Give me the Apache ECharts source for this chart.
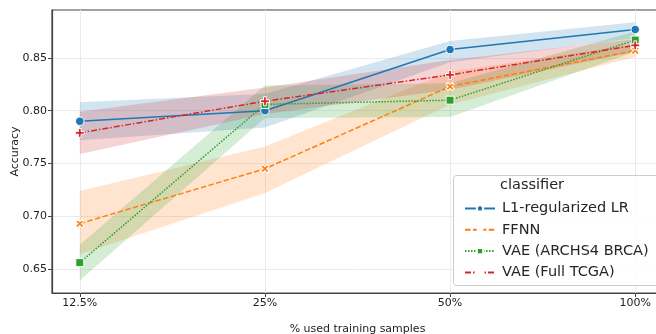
<!DOCTYPE html>
<html><head><meta charset="utf-8">
<script src="https://cdn.jsdelivr.net/npm/echarts@6/dist/echarts.min.js"></script>
<style>html,body{margin:0;padding:0;background:#fff}#c{width:656px;height:334px}</style>
</head><body><div id="c"></div>
<script>
const categories = ['12.5%', '25%', '50%', '100%'];
const yTicks = [0.65, 0.70, 0.75, 0.80, 0.85];
const seriesNames = ['L1-regularized LR', 'FFNN', 'VAE (ARCHS4 BRCA)', 'VAE (Full TCGA)'];
const lrMean = [0.790, 0.800, 0.858, 0.877];
const lrLow = [0.772, 0.784, 0.846, 0.869];
const lrHigh = [0.808, 0.816, 0.866, 0.884];
const ffnnMean = [0.693, 0.745, 0.823, 0.857];
const ffnnLow = [0.664, 0.722, 0.806, 0.851];
const ffnnHigh = [0.724, 0.766, 0.837, 0.863];
const vaeArchsMean = [0.656, 0.806, 0.810, 0.867];
const vaeArchsLow = [0.639, 0.793, 0.794, 0.856];
const vaeArchsHigh = [0.673, 0.824, 0.826, 0.875];
const vaeTcgaMean = [0.779, 0.809, 0.834, 0.862];
const vaeTcgaLow = [0.759, 0.797, 0.820, 0.856];
const vaeTcgaHigh = [0.799, 0.822, 0.848, 0.868];

const colors = ['#1f77b4', '#ff7f0e', '#2ca02c', '#d62728'];
const plusPath = 'path://M-1.2,-4H1.2V-1.2H4V1.2H1.2V4H-1.2V1.2H-4V-1.2H-1.2Z';
const styles = [
  {symbol: 'circle', size: 8.5, rotate: 0, type: 'solid'},
  {symbol: plusPath, size: 9, rotate: 45, type: [5.5, 2.4]},
  {symbol: 'rect', size: 8, rotate: 0, type: [1.5, 1.5]},
  {symbol: plusPath, size: 9, rotate: 0, type: [6, 2, 1.5, 2]}
];
const means = [lrMean, ffnnMean, vaeArchsMean, vaeTcgaMean];
const lows = [lrLow, ffnnLow, vaeArchsLow, vaeTcgaLow];
const highs = [lrHigh, ffnnHigh, vaeArchsHigh, vaeTcgaHigh];

const series = [];
for (let i = 0; i < 4; i++) {
  const lo = lows[i], hi = highs[i];
  series.push({
    type: 'custom', silent: true, z: 1,
    data: lo.map((v, j) => [j, v, hi[j]]),
    encode: {x: 0, y: [1, 2]},
    renderItem: function (params, api) {
      if (params.dataIndex !== 0) return null;
      const pts = [];
      for (let j = 0; j < lo.length; j++) pts.push(api.coord([j, hi[j]]));
      for (let j = lo.length - 1; j >= 0; j--) pts.push(api.coord([j, lo[j]]));
      return {type: 'polygon', shape: {points: pts},
        style: {fill: colors[i], opacity: 0.2}};
    }
  });
}
for (let i = 0; i < 4; i++) {
  series.push({
    name: seriesNames[i], type: 'line', z: 3,
    symbol: styles[i].symbol, symbolSize: styles[i].size, symbolRotate: styles[i].rotate,
    showAllSymbol: true,
    itemStyle: {color: colors[i], borderColor: '#fff', borderWidth: 1},
    lineStyle: {color: colors[i], width: 1.5, type: styles[i].type},
    data: means[i].map((v, j) => [j, v])
  });
}

const chart = echarts.init(document.getElementById('c'), null, {renderer: 'canvas'});
chart.setOption({
  animation: false,
  backgroundColor: '#fff',
  textStyle: {fontFamily: 'DejaVu Sans'},
  grid: {left: 52, top: 10, width: 611, height: 283, outerBoundsMode: 'none', containLabel: false,
    show: true, borderColor: '#444', borderWidth: 1.2, backgroundColor: 'transparent'},
  xAxis: {
    type: 'value', min: -0.15, max: 3.15,
    name: '% used training samples', nameLocation: 'middle', nameGap: 31, nameMoveOverlap: false,
    nameTextStyle: {fontSize: 11, color: '#222'},
    axisLine: {show: true, onZero: false, lineStyle: {color: '#444', width: 1.2}},
    axisTick: {show: true, length: 4, customValues: [0, 1, 2, 3], lineStyle: {color: '#444'}},
    axisLabel: {customValues: [0, 1, 2, 3], formatter: v => categories[Math.round(v)], fontSize: 11, color: '#222', margin: 5},
    splitLine: {show: true, lineStyle: {color: '#ebebeb', width: 1}}
  },
  yAxis: {
    type: 'value', min: 0.6272, max: 0.8955,
    name: 'Accuracy', nameLocation: 'middle', nameGap: 31, nameMoveOverlap: false,
    nameTextStyle: {fontSize: 11, color: '#222'},
    axisLine: {show: true, onZero: false, lineStyle: {color: '#444', width: 1.2}},
    axisTick: {show: true, length: 4, customValues: yTicks, lineStyle: {color: '#444'}},
    axisLabel: {customValues: yTicks, formatter: v => v.toFixed(2), fontSize: 11, color: '#222', margin: 5},
    splitLine: {show: true, lineStyle: {color: '#ebebeb', width: 1}}
  },
  legend: {
    orient: 'vertical', left: 459, top: 196, itemWidth: 30, itemHeight: 8, itemGap: 6.3,
    data: seriesNames, z: 10,
    textStyle: {fontSize: 14.5, color: '#262626', fontFamily: 'DejaVu Sans', padding: [0, 0, 0, 2]}
  },
  graphic: [
    {type: 'rect', z: 8, shape: {x: 453.5, y: 175.5, width: 220, height: 110, r: 3},
     style: {fill: 'rgba(255,255,255,0.85)', stroke: '#cccccc', lineWidth: 1}},
    {type: 'text', z: 9, left: 500, top: 178,
     style: {text: 'classifier', fontSize: 14.5, fill: '#262626', fontFamily: 'DejaVu Sans'}}
  ],
  series: series
});
</script></body></html>
